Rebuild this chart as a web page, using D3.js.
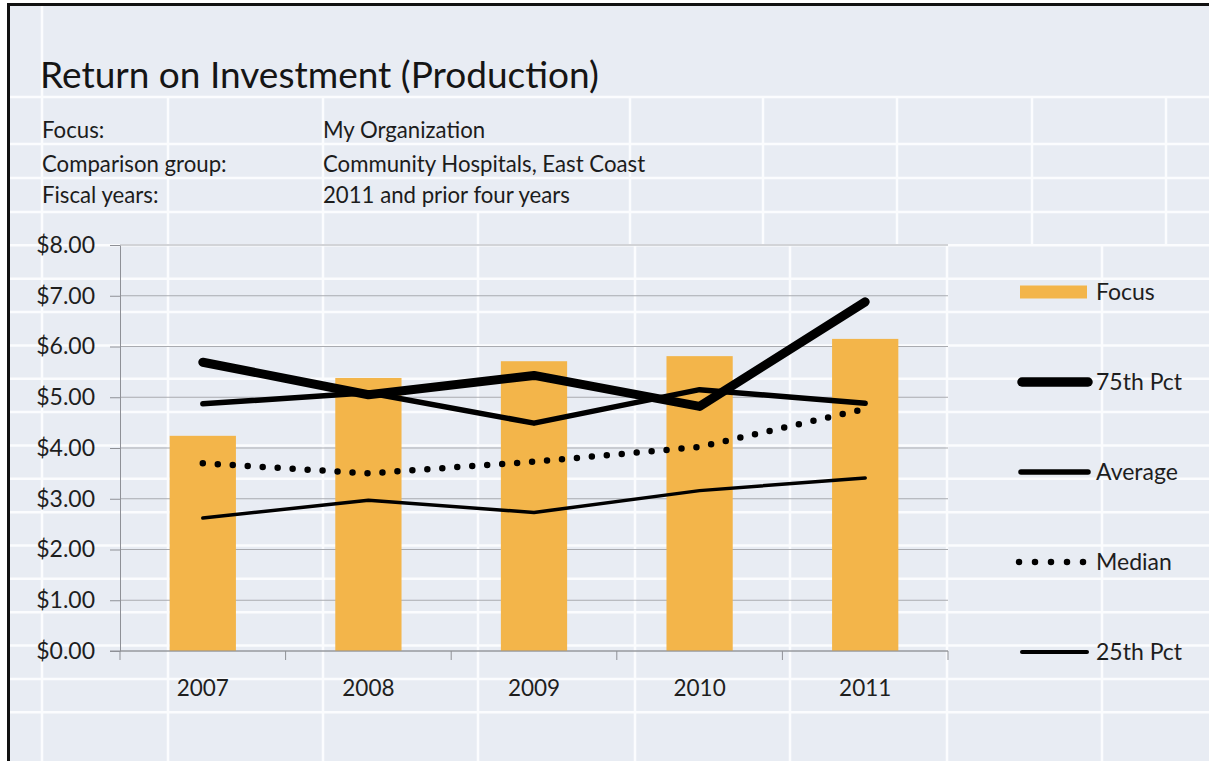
<!DOCTYPE html>
<html>
<head>
<meta charset="utf-8">
<script src="https://cdn.jsdelivr.net/npm/d3@7"></script>
<style>
  body { margin: 0; background: #fff; overflow: hidden; }
  svg { display: block; font-family: Lato, "Open Sans", sans-serif; }
</style>
</head>
<body>
<svg id="chart" width="1209" height="761"></svg>
<script>
// values
const years = ["2007", "2008", "2009", "2010", "2011"];
const focus = [4.24, 5.38, 5.71, 5.81, 6.15];
const pct75 = [5.69, 5.05, 5.43, 4.82, 6.88];
const average = [4.87, 5.09, 4.49, 5.15, 4.88];
const median = [3.70, 3.50, 3.73, 4.02, 4.77];
const pct25 = [2.62, 2.97, 2.73, 3.16, 3.41];
const yTicks = [0, 1, 2, 3, 4, 5, 6, 7, 8];

const titleText = "Return on Investment (Production)";
const infoLabels = ["Focus:", "Comparison group:", "Fiscal years:"];
const infoValues = ["My Organization", "Community Hospitals, East Coast", "2011 and prior four years"];
const legendNames = ["Focus", "75th Pct", "Average", "Median", "25th Pct"];

const W = 1209, H = 761;
const svg = d3.select("#chart");

// spreadsheet behind the chart
svg.append("rect")
    .attr("x", 8).attr("y", 4)
    .attr("width", W + 20).attr("height", H + 20)
    .attr("fill", "#e8ecf3");

const sheet = svg.append("g").attr("stroke", "#fbfcfe").attr("stroke-width", 2.5);
const rowLines = [97, 144, 178, 212].concat(d3.range(1, 16).map(k => 212 + 33.35 * k));
sheet.selectAll(".row").data(rowLines).enter().append("line")
    .attr("x1", 10).attr("x2", W + 5).attr("y1", d => d).attr("y2", d => d);

const colSegs = [
    { x: 42, y0: 6, y1: H },
    ...[168, 323, 630, 763, 897, 1032, 1166].map(x => ({ x, y0: 97, y1: 246 })),
    { x: 478, y0: 212, y1: 246 },
    ...[168, 323, 478, 635, 790, 947, 1102].map(x => ({ x, y0: 246, y1: H }))
];
sheet.selectAll(".col").data(colSegs).enter().append("line")
    .attr("x1", d => d.x).attr("x2", d => d.x).attr("y1", d => d.y0).attr("y2", d => d.y1);

// frame: only the left and top edges are in view
svg.append("line")
    .attr("x1", 8.5).attr("x2", 8.5).attr("y1", 3).attr("y2", H + 5)
    .attr("stroke", "#111").attr("stroke-width", 3);
svg.append("line")
    .attr("x1", 7).attr("x2", W + 5).attr("y1", 4.5).attr("y2", 4.5)
    .attr("stroke", "#111").attr("stroke-width", 3);

// heading text
svg.append("text")
    .attr("x", 40).attr("y", 88)
    .attr("font-size", 37).attr("fill", "#151515")
    .text(titleText);

const info = svg.append("g").attr("font-size", 22.2).attr("fill", "#1c1c1c");
const infoY = [138, 172, 203];
info.selectAll(".lab").data(infoLabels).enter().append("text")
    .attr("x", 42).attr("y", (d, i) => infoY[i]).text(d => d);
info.selectAll(".val").data(infoValues).enter().append("text")
    .attr("x", 323).attr("y", (d, i) => infoY[i]).text(d => d);

// chart area
const plotLeft = 120, plotRight = 948, plotTop = 245, plotBottom = 651;

const x = d3.scaleBand().domain(years).range([plotLeft, plotRight]).paddingInner(0.6).paddingOuter(0.3);
const step = x.step();
const cx = d => x(d) + x.bandwidth() / 2;
const y = d3.scaleLinear().domain([0, 8]).range([plotBottom, plotTop]);

// horizontal gridlines
svg.append("g").selectAll("line").data(yTicks).enter().append("line")
    .attr("x1", plotLeft).attr("x2", plotRight)
    .attr("y1", d => y(d)).attr("y2", d => y(d))
    .attr("stroke", "#a9abb0").attr("stroke-width", 1);

// y axis
const yAxis = svg.append("g")
    .attr("transform", `translate(${plotLeft},0)`)
    .call(d3.axisLeft(y).tickValues(yTicks).tickSize(10).tickSizeOuter(0).tickPadding(15)
        .tickFormat(d3.format("$.2f")));
yAxis.select(".domain").attr("stroke", "#8e9096");
yAxis.selectAll(".tick line").attr("stroke", "#8e9096");
yAxis.selectAll("text").attr("font-size", 23).attr("font-family", "Lato, sans-serif").attr("fill", "#1e1e1e");

// bars
svg.append("g").selectAll("rect").data(years).enter().append("rect")
    .attr("x", d => x(d))
    .attr("y", (d, i) => y(focus[i]))
    .attr("width", x.bandwidth())
    .attr("height", (d, i) => y(0) - y(focus[i]))
    .attr("fill", "#f3b54a");

// x axis
const xAxis = svg.append("g")
    .attr("transform", `translate(0,${plotBottom})`)
    .call(d3.axisBottom(x).tickSize(0).tickPadding(29).tickSizeOuter(0));
xAxis.select(".domain").remove();
xAxis.selectAll("text").attr("font-size", 22.5).attr("font-family", "Lato, sans-serif").attr("fill", "#1e1e1e");
xAxis.append("line")
    .attr("x1", plotLeft - 10).attr("x2", plotRight).attr("y1", 0).attr("y2", 0)
    .attr("stroke", "#8e9096");
xAxis.selectAll(".bound").data(d3.range(years.length + 1)).enter().append("line")
    .attr("x1", d => plotLeft + d * step).attr("x2", d => plotLeft + d * step)
    .attr("y1", 0).attr("y2", 9)
    .attr("stroke", "#8e9096");

// lines
const series = [
    { name: "25th Pct", values: pct25, width: 3.5 },
    { name: "Median", values: median, width: 6.5, dash: "0,15" },
    { name: "Average", values: average, width: 5.5 },
    { name: "75th Pct", values: pct75, width: 9 }
];
const line = d3.line().x((v, i) => cx(years[i])).y(v => y(v));

svg.append("g").selectAll("path").data(series).enter().append("path")
    .attr("d", d => line(d.values))
    .attr("fill", "none")
    .attr("stroke", "#000")
    .attr("stroke-width", d => d.width)
    .attr("stroke-linecap", "round")
    .attr("stroke-linejoin", "round")
    .attr("stroke-dasharray", d => d.dash || null);

// legend
const ly = d3.scalePoint().domain(legendNames).range([292, 652]);
const legend = svg.append("g");
legend.append("rect")
    .attr("x", 1020).attr("y", ly("Focus") - 6.5)
    .attr("width", 67).attr("height", 13)
    .attr("fill", "#f3b54a");
const legendLines = [
    { name: "75th Pct", x1: 1022, x2: 1088, width: 9.5 },
    { name: "Average", x1: 1021, x2: 1088, width: 5.5 },
    { name: "Median", x1: 1019, x2: 1084, width: 6.5, dash: "0,16" },
    { name: "25th Pct", x1: 1022, x2: 1087, width: 4 }
];
legend.selectAll(".ll").data(legendLines).enter().append("line")
    .attr("x1", d => d.x1).attr("x2", d => d.x2)
    .attr("y1", d => ly(d.name)).attr("y2", d => ly(d.name))
    .attr("stroke", "#000")
    .attr("stroke-width", d => d.width)
    .attr("stroke-linecap", "round")
    .attr("stroke-dasharray", d => d.dash || null);
legend.selectAll("text").data(legendNames).enter().append("text")
    .attr("x", 1096).attr("y", d => ly(d))
    .attr("dy", "0.35em")
    .attr("font-size", 23).attr("fill", "#1e1e1e")
    .text(d => d);
</script>
</body>
</html>
